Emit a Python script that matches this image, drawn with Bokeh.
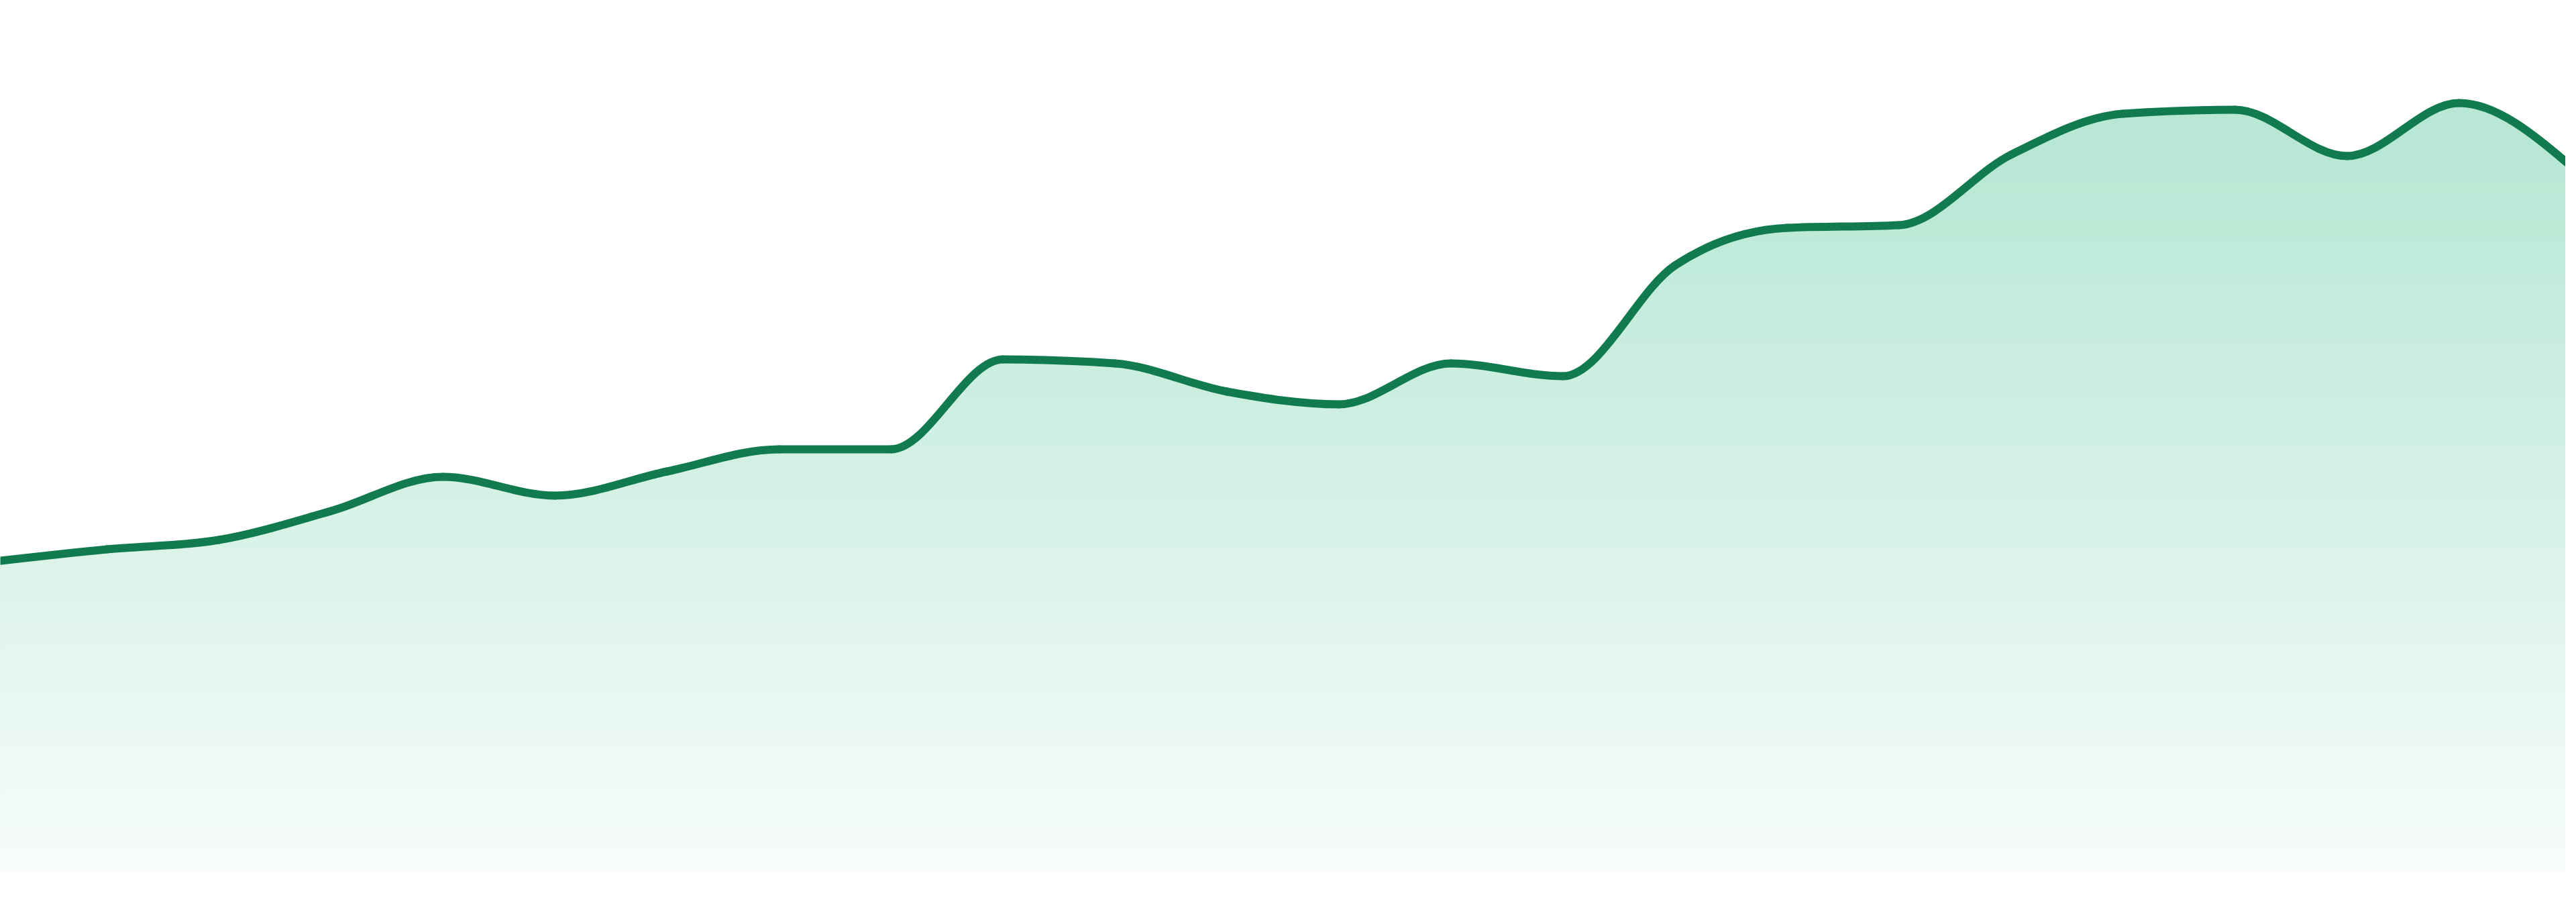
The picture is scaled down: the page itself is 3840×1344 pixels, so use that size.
import numpy as np
from bokeh.plotting import figure
from bokeh.models import Range1d, ColumnDataSource
from bokeh.embed import file_html
from bokeh.resources import INLINE

# ---- data -------------------------------------------------------------
index = list(range(24))
values = [46.2, 48.0, 49.4, 53.7, 58.8, 56.0, 59.6, 62.9, 62.9, 76.3,
          75.7, 71.5, 69.6, 75.7, 73.8, 90.3, 95.9, 96.3, 106.8, 112.9,
          113.5, 106.6, 114.5, 105.1]

LINE_COLOR = "#117a4f"
TOP_RGB = (184, 232, 213)
BOTTOM_RGB = (247, 252, 250)

x = np.array(index, dtype=float)
y = np.array(values, dtype=float)

# ---- monotone cubic (monotoneX) tangents --------------------------------
def monotone_tangents(xs, ys):
    n = len(xs)
    h = np.diff(xs)
    s = np.diff(ys) / h
    t = np.zeros(n)
    for i in range(1, n - 1):
        s0, s1 = s[i - 1], s[i]
        p_ = (s0 * h[i] + s1 * h[i - 1]) / (h[i - 1] + h[i])
        t[i] = (np.sign(s0) + np.sign(s1)) * min(abs(s0), abs(s1), 0.5 * abs(p_))
    t[0] = (3 * s[0] - t[1]) / 2
    t[-1] = (3 * s[-1] - t[-2]) / 2
    return t

t = monotone_tangents(x, y)
h = np.diff(x)
x0, y0 = x[:-1], y[:-1]
x1, y1 = x[1:], y[1:]
cx0 = x0 + h / 3
cy0 = y0 + t[:-1] * h / 3
cx1 = x1 - h / 3
cy1 = y1 - t[1:] * h / 3

# points along the same Bezier segments, for the gradient area under the line
u = np.linspace(0, 1, 48)[:, None]
bx = ((1 - u) ** 3 * x0 + 3 * (1 - u) ** 2 * u * cx0 + 3 * (1 - u) * u ** 2 * cx1 + u ** 3 * x1)
by = ((1 - u) ** 3 * y0 + 3 * (1 - u) ** 2 * u * cy0 + 3 * (1 - u) * u ** 2 * cy1 + u ** 3 * y1)
cxs = bx.T.ravel()
cys = by.T.ravel()

# ---- figure -----------------------------------------------------------
p = figure(width=3824, height=1320,
           x_range=Range1d(8 / 166.96, 3832 / 166.96),
           y_range=Range1d(-2.2, 129.8),
           output_backend="svg", toolbar_location=None,
           x_axis_location=None, y_axis_location=None,
           min_border=0, outline_line_color=None,
           background_fill_color="white", border_fill_color="white")
p.grid.visible = False

# vertical gradient: solid top colour above v_top, fading to near white at 0
v_top = 105.6
N = 70
zeros = np.zeros_like(cys)
p.varea(x=cxs, y1=zeros, y2=cys, fill_color="#%02x%02x%02x" % TOP_RGB)
for k in range(N):
    vk = v_top * (1 - k / N)
    f = (k + 0.5) / N
    rgb = tuple(int(round(TOP_RGB[i] + (BOTTOM_RGB[i] - TOP_RGB[i]) * f)) for i in range(3))
    p.varea(x=cxs, y1=zeros, y2=np.minimum(cys, vk),
            fill_color="#%02x%02x%02x" % rgb)

# line
src = ColumnDataSource(dict(x0=x0, y0=y0, x1=x1, y1=y1, cx0=cx0, cy0=cy0, cx1=cx1, cy1=cy1))
p.bezier(x0="x0", y0="y0", x1="x1", y1="y1", cx0="cx0", cy0="cy0", cx1="cx1", cy1="cy1",
         source=src, line_color=LINE_COLOR, line_width=12, line_cap="round")

open("out.html", "w").write(file_html(p, INLINE))
